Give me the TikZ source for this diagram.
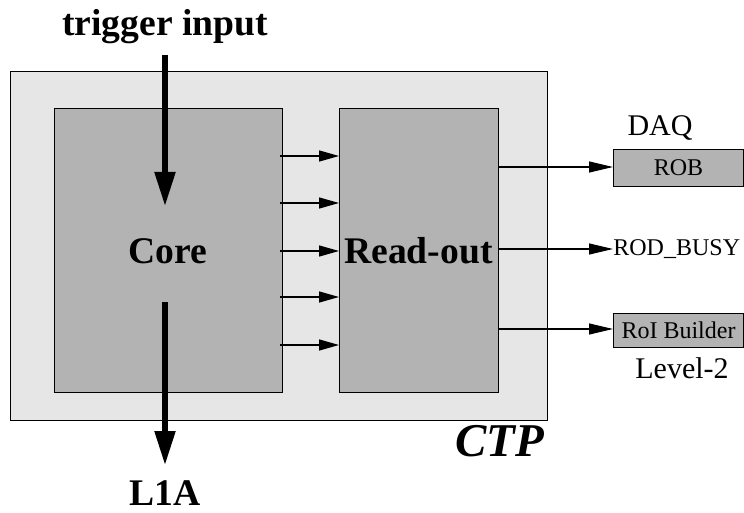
\documentclass[tikz,border=0pt]{standalone}
\usepackage{fontspec}
\setmainfont{Liberation Serif}
\usetikzlibrary{arrows.meta,calc}
\definecolor{outerfill}{HTML}{E6E6E6}
\definecolor{innerfill}{HTML}{B3B3B3}
\tikzset{
  box/.style={draw=black, line width=0.5pt, rectangle, anchor=north west, inner sep=0pt},
  bigtext/.style={font=\fontsize{18.8}{22}\selectfont\bfseries},
  midtext/.style={font=\fontsize{15}{18}\selectfont},
  smalltext/.style={font=\fontsize{12}{14}\selectfont},
  conn/.style={line width=0.7pt, -{Triangle[length=10pt,width=5.5pt]}},
  outconn/.style={line width=0.6pt, -{Triangle[length=12pt,width=5.5pt]}},
  heavy/.style={line width=2.6pt, -{Triangle[length=17pt,width=10pt]}}
}
\begin{document}
\begin{tikzpicture}[x=0.5pt,y=-0.5pt]
\useasboundingbox (0,0) rectangle (744,513);
% outer CTP box
\node[box, fill=outerfill, minimum width=268.5pt, minimum height=174.5pt] (ctp) at (10,71) {};
\node[box, fill=innerfill, minimum width=114pt, minimum height=142pt, bigtext] (core) at (54,108) {};
\node[bigtext] (coretxt) at (168,251) {Core};
\node[box, fill=innerfill, minimum width=79.5pt, minimum height=142pt] (readout) at (339,108) {};
\node[bigtext] (rotxt) at (418.5,251) {Read-out};
\node[font=\fontsize{23.5}{28}\selectfont\bfseries\itshape] (ctplbl) at (500,441) {CTP};
% arrows core -> readout
\foreach \yy in {156,203,251,297,345}{
  \draw[conn] ([xshift=-1.5pt]core.east |- 0,\yy) -- (readout.west |- 0,\yy);
}
% right side
\node[box, fill=innerfill, minimum width=65pt, minimum height=18.5pt] (rob) at (613,149) {};
\node[smalltext] (robtxt) at (rob.center) {ROB};
\node[midtext] (daq) at (660,128) {DAQ};
\node[smalltext, anchor=west, inner sep=0pt] (busy) at (613,249) {ROD\_BUSY};
\node[box, fill=innerfill, minimum width=65pt, minimum height=17pt] (roib) at (613,313) {};
\node[smalltext] (roibtxt) at (roib.center) {RoI Builder};
\node[midtext] (lvl2) at (682,368) {Level-2};
\draw[outconn] (readout.east |- 0,167) -- (rob.west |- 0,167);
\draw[outconn] (readout.east |- 0,249) -- (busy.west);
\draw[outconn] (readout.east |- 0,329) -- (roib.west |- 0,329);
% trigger input / L1A
\node[bigtext] (trig) at (165,27) {trigger input};
\coordinate (trigstart) at (165,55);
\coordinate (trigend) at (165,206);
\draw[heavy] (trigstart) -- (trigend);
\coordinate (l1start) at (165,302);
\coordinate (l1end) at (165,465);
\draw[heavy] (l1start) -- (l1end);
\node[bigtext] (l1a) at (165,493) {L1A};
\end{tikzpicture}
\end{document}
